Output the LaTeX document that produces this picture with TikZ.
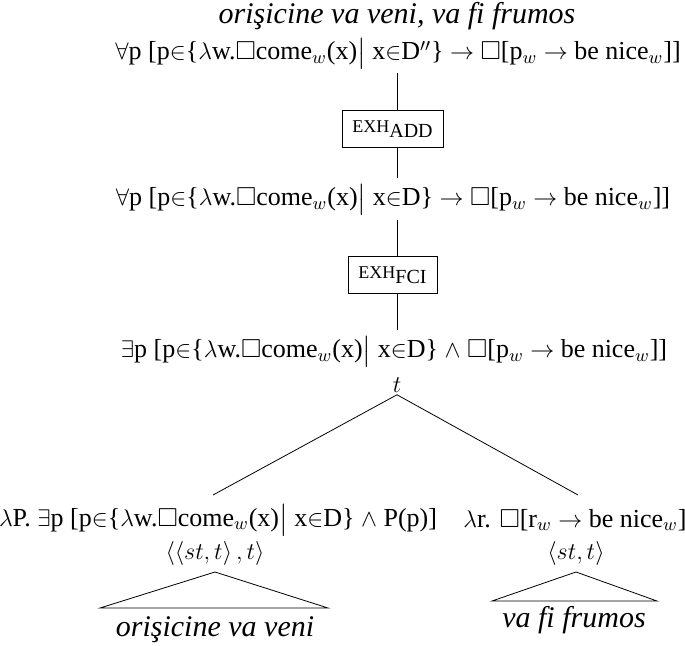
\documentclass[tikz,border=0pt]{standalone}
\usepackage{amsmath, amssymb}
\usepackage{fontspec}
\setmainfont{Liberation Serif}
\usepackage{tikz}
\tikzset{>=latex}
\usetikzlibrary{calc}

\tikzset{
  sem/.style={inner sep=1pt, font=\fontsize{13}{15}\selectfont},
  ling/.style={inner sep=1pt, font=\fontsize{15}{17}\selectfont\itshape},
  exhbox/.style={draw, inner sep=5pt, font=\fontsize{13}{15}\selectfont}
}
\newcommand{\comeset}{\ensuremath{\Box}come$_w$(x)$\big|$ x$\in$D}
\newcommand{\nicew}{\ensuremath{\Box}[p$_w$ $\rightarrow$ be nice$_w$]]}

\begin{document}
\begin{tikzpicture}[x=0.5pt, y=-0.5pt]
        \useasboundingbox (0, 0) rectangle (685, 646);
        \node[ling] (title) at (397, 16) {ori\c{s}icine va veni, va fi frumos};
        \node[sem] (top) at (398, 54) {$\forall$p [p$\in$\{$\lambda$w.\comeset$''$\} $\rightarrow$ \nicew};
        \node[exhbox] (add) at (393, 129) {{\small EXH}\textsubscript{\normalsize ADD}};
        \node[sem] (mid) at (393, 200) {$\forall$p [p$\in$\{$\lambda$w.\comeset\} $\rightarrow$ \nicew};
        \node[exhbox] (fci) at (393, 275) {{\small EXH}\textsubscript{\normalsize FCI}};
        \node[sem] (low) at (394, 352) {$\exists$p [p$\in$\{$\lambda$w.\comeset\} $\wedge$ \nicew};
        \node[sem] (t) at (397, 385) {$t$};
        \node[sem] (left) at (218, 520) {$\lambda$P. $\exists$p [p$\in$\{$\lambda$w.\comeset\} $\wedge$ P(p)]};
        \node[sem] (right) at (575, 520) {$\lambda$r. \ensuremath{\Box}[r$_w$ $\rightarrow$ be nice$_w$]};
        \node[sem] (ltype) at (215, 553) {$\langle\langle st,t\rangle\,,t\rangle$};
        \node[sem] (rtype) at (576, 553) {$\langle st,t\rangle$};
        \node[ling] (lword) at (215, 630) {ori\c{s}icine va veni};
        \node[ling] (rword) at (574, 620) {va fi frumos};
        \coordinate (a1) at (397, 73);
        \coordinate (a2) at (397, 178);
        \coordinate (a3) at (397, 220);
        \coordinate (a4) at (397, 330);
        \draw (a1) -- (a1 |- add.north);
        \draw (a2 |- add.south) -- (a2);
        \draw (a3) -- (a3 |- fci.north);
        \draw (a4 |- fci.south) -- (a4);
        \draw (t.south) -- (213, 495);
        \draw (t.south) -- (578, 495);
        % triangles
        \draw (215, 572) -- (100, 608) -- (328, 608) -- cycle;
        \draw (576, 572) -- (492, 601) -- (657, 601) -- cycle;
      \end{tikzpicture}
\end{document}
